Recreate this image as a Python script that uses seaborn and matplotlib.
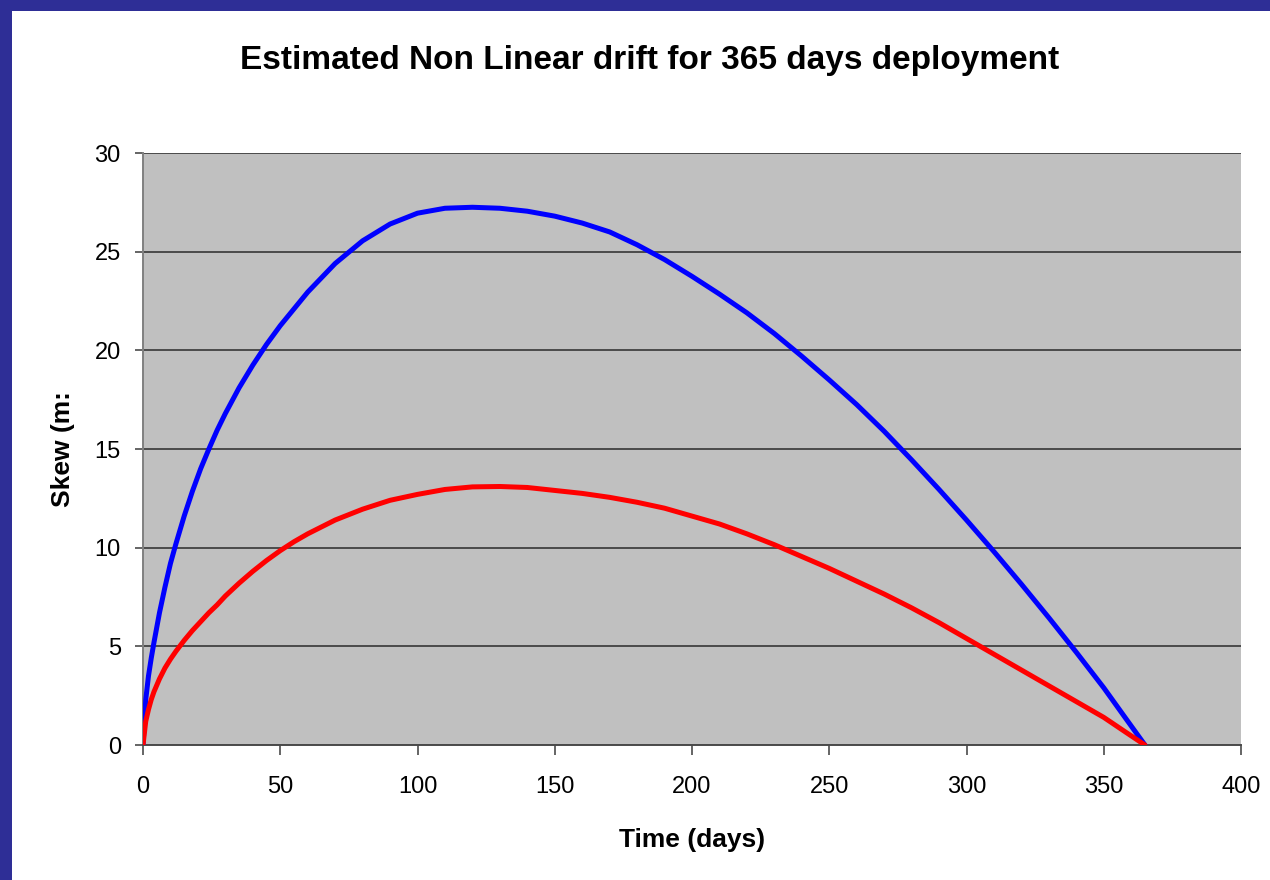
import matplotlib
matplotlib.use("Agg")
import matplotlib.pyplot as plt
from matplotlib.patches import Rectangle
import seaborn as sns
import pandas as pd

# Estimated skew (ms) over a 365-day deployment
upper_days = [0, 1, 2, 3, 4, 6, 8, 10, 12, 15, 18, 21, 24, 27, 30, 35, 40, 45,
              50, 60, 70, 80, 90, 100, 110, 120, 130, 140, 150, 160, 170, 180,
              190, 200, 210, 220, 230, 240, 250, 260, 270, 280, 290, 300, 310,
              320, 330, 340, 350, 358, 365]
upper_skew = [0, 2.3, 3.5, 4.4, 5.2, 6.7, 8.0, 9.2, 10.2, 11.6, 12.86, 14.0,
              15.0, 15.95, 16.8, 18.1, 19.25, 20.3, 21.25, 22.95, 24.4, 25.55,
              26.4, 26.95, 27.2, 27.25, 27.2, 27.05, 26.8, 26.45, 26.0, 25.35,
              24.6, 23.75, 22.85, 21.9, 20.85, 19.7, 18.5, 17.25, 15.9, 14.45,
              12.95, 11.4, 9.8, 8.15, 6.45, 4.7, 2.9, 1.35, 0]

lower_days = [0, 1, 2, 3, 4, 6, 8, 10, 12, 15, 18, 21, 24, 27, 30, 35, 40, 45,
              50, 55, 60, 70, 80, 90, 100, 110, 120, 130, 140, 150, 160, 170,
              180, 190, 200, 210, 220, 230, 240, 250, 260, 270, 280, 290, 300,
              310, 320, 330, 340, 350, 358, 365]
lower_skew = [0, 1.2, 1.8, 2.3, 2.7, 3.35, 3.9, 4.35, 4.75, 5.3, 5.8, 6.25,
              6.7, 7.1, 7.55, 8.2, 8.8, 9.35, 9.85, 10.3, 10.7, 11.4, 11.95,
              12.4, 12.7, 12.95, 13.08, 13.1, 13.05, 12.9, 12.75, 12.55, 12.3,
              12.0, 11.6, 11.2, 10.7, 10.15, 9.55, 8.95, 8.3, 7.65, 6.95, 6.2,
              5.4, 4.6, 3.8, 3.0, 2.2, 1.4, 0.65, 0]

series_names = ["upper", "lower"]
series_colors = ["#0000FF", "#FF0000"]

x_ticks = [0, 50, 100, 150, 200, 250, 300, 350, 400]
y_ticks = [0, 5, 10, 15, 20, 25, 30]

title = "Estimated Non Linear drift for 365 days deployment"
x_label = "Time (days)"
y_label = "Skew (m:"

df = pd.concat([
    pd.DataFrame({"day": upper_days, "skew": upper_skew, "series": series_names[0]}),
    pd.DataFrame({"day": lower_days, "skew": lower_skew, "series": series_names[1]}),
], ignore_index=True)

sns.set_style("white")
plt.rcParams["font.family"] = ["Liberation Sans", "DejaVu Sans"]
plt.rcParams["text.color"] = "black"
plt.rcParams["axes.labelcolor"] = "black"

fig = plt.figure(figsize=(12.7, 8.8), dpi=100)
fig.patch.set_facecolor("white")

# navy frame along the left and top edges
frame = "#2E2E96"
fig.patches.append(Rectangle((0, 0), 12 / 1270, 1, transform=fig.transFigure,
                             facecolor=frame, edgecolor="none", zorder=0))
fig.patches.append(Rectangle((0, 1 - 11 / 880), 1, 11 / 880, transform=fig.transFigure,
                             facecolor=frame, edgecolor="none", zorder=0))

ax = fig.add_axes([143 / 1270, 135 / 880, (1241 - 143) / 1270, (745 - 153) / 880])
ax.set_facecolor("#C0C0C0")

sns.lineplot(data=df, x="day", y="skew", hue="series", sort=False,
             palette=dict(zip(series_names, series_colors)), linewidth=3.6,
             legend=False, ax=ax, zorder=3)

ax.set_xlim(0, 400)
ax.set_ylim(0, 30)
ax.set_xticks(x_ticks)
ax.set_yticks(y_ticks)
ax.set_xticklabels([str(v) for v in x_ticks], fontsize=17)
ax.set_yticklabels([str(v) for v in y_ticks], fontsize=17)

ax.grid(axis="y", color="#4A4A4A", linewidth=1.4, zorder=1)
ax.grid(axis="x", visible=False)
ax.set_axisbelow(True)

for side in ["top", "right"]:
    ax.spines[side].set_visible(False)
ax.spines["left"].set_color("#808080")
ax.spines["left"].set_linewidth(1.4)
ax.spines["bottom"].set_color("#4A4A4A")
ax.spines["bottom"].set_linewidth(1.4)

ax.tick_params(axis="x", direction="out", length=7, width=1.2, color="#4A4A4A",
               pad=15, labelcolor="black")
ax.tick_params(axis="y", direction="out", length=6, width=1.2, color="#4A4A4A",
               pad=10, labelcolor="black")
ax.tick_params(left=True, bottom=True)

ax.set_xlabel(x_label, fontsize=19, fontweight="bold", labelpad=22, color="black")
ax.set_ylabel(y_label, fontsize=19, fontweight="bold", labelpad=14, color="black")

fig.text(650 / 1270, 1 - 60 / 880, title, ha="center", va="center",
         fontsize=24, fontweight="bold", color="black")

fig.savefig("out.png", dpi=100)
